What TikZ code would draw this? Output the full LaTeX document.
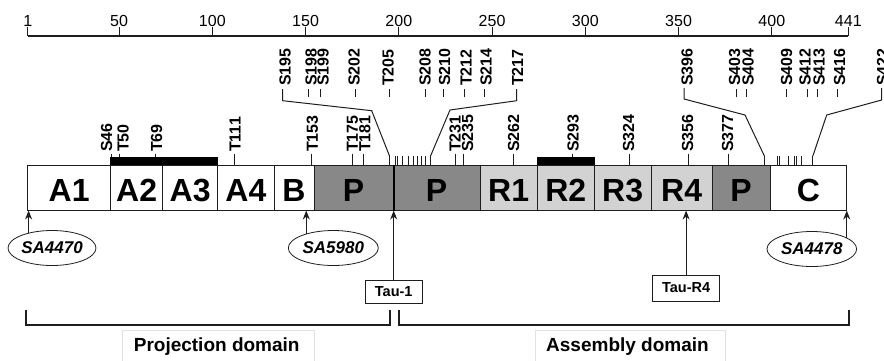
\documentclass[tikz,border=0pt]{standalone}
\usepackage{fontspec}
\setmainfont{Liberation Sans}
\usetikzlibrary{arrows.meta,shapes.geometric,calc}
\definecolor{pgray}{RGB}{136,136,136}
\definecolor{rgray}{RGB}{210,210,210}
\definecolor{lineblk}{RGB}{30,30,30}
\definecolor{faint}{RGB}{225,225,225}
\begin{document}
\begin{tikzpicture}[x=1pt,y=-1pt,
  declare function={rx(\r)=27.7+(\r-1)*1.865;},
  seg/.style={draw=lineblk,line width=1pt,minimum height=45pt,inner sep=0pt},
  segtxt/.style={font=\fontsize{32}{32}\selectfont\bfseries,inner sep=0pt,yshift=-3pt},
  lab/.style={rotate=90,anchor=west,inner sep=0pt,font=\fontsize{16}{16}\selectfont\bfseries},
  tk/.style={line width=0.9pt,lineblk},
  brk/.style={line width=1pt,lineblk},
  axisline/.style={line width=1.1pt,lineblk},
  axlab/.style={anchor=base,inner sep=0pt,font=\fontsize{16}{16}\selectfont},
  arr/.style={line width=1.2pt,lineblk,-{Stealth[length=9pt,width=7pt]}},
  sa/.style={ellipse,draw=lineblk,line width=0.8pt,minimum width=88pt,minimum height=35pt,inner sep=0pt,font=\fontsize{17}{17}\selectfont\bfseries\itshape},
  taubox/.style={draw=lineblk,line width=0.8pt,inner sep=0pt,font=\fontsize{14.5}{14.5}\selectfont\bfseries},
  domline/.style={line width=2pt,lineblk},
  dombox/.style={draw=faint,line width=0.6pt,inner sep=0pt},
  domtxt/.style={anchor=base,inner sep=0pt,font=\fontsize{19}{19}\selectfont\bfseries}
]
\useasboundingbox (0,0) rectangle (884,360);

% ---- scale axis
\coordinate (ax1) at ({rx(1)},36);
\coordinate (ax2) at ({rx(441)},36);
\draw[axisline] (ax1) -- (ax2);
\foreach \r in {1,50,100,150,200,250,300,350,400,441}{
  \draw[axisline] ({rx(\r)},36) -- ({rx(\r)},27);
  \node[axlab] (ax\r) at ({rx(\r)},26.7) {\r};
}

% ---- upper (expanded) labels, left cluster
\foreach \t/\tx/\kx in {S198/311/308, S199/323/320, S202/354/355, T205/388/389.5, S208/425/425, S210/444.5/443.5, T212/466/464, S214/486/484.5}{
  \node[lab] (u\t) at (\tx,86) {\t};
  \draw[tk] (\kx,89) -- (\kx,97);
}
\node[lab] (uS195) at (285,86) {S195};
\node[lab] (uT217) at (517.5,86) {T217};
\draw[brk] (282.7,89) -- (282.7,100.7) -- (371.7,110.7) -- ({rx(195)},156);
\draw[brk] (516.7,89) -- (516.7,100.7) -- (450,110) -- ({rx(217)},156);
\foreach \r in {195,198,199,202,205,208,210,212,214,217}{
  \draw[tk] ({rx(\r)},156) -- ({rx(\r)},165);
}

% ---- upper (expanded) labels, right cluster
\foreach \t/\tx/\kx in {S403/734.5/736, S404/748/746.5, S409/786.5/786, S412/805/807.5, S413/819/817.5, S416/839.5/837}{
  \node[lab] (u\t) at (\tx,86) {\t};
  \draw[tk] (\kx,89) -- (\kx,97);
}
\node[lab] (uS396) at (687,86) {S396};
\node[lab] (uS422) at (882.5,86) {S422};
\draw[brk] (684,88) -- (684,99) -- (745,115) -- ({rx(396)},156);
\draw[brk] (881.7,88) -- (881.7,100) -- (826.7,115) -- ({rx(422)},156);
\foreach \r in {396,403,404,409,412,413,416,422}{
  \draw[tk] ({rx(\r)},156) -- ({rx(\r)},165);
}

% ---- lower labels
\foreach \t/\tx/\kx in {S46/106.7/111.6, T50/123/119.3, T69/156.5/155.5, T111/235/234, T153/312.5/311.2, T175/352.5/352.5, T181/364.8/363.5, T231/455/455.7, S235/467.5/463, S262/513.5/513, S293/573/572.5, S324/628.5/629, S356/687.5/688, S377/727.5/728}{
  \node[lab] (l\t) at (\tx,152) {\t};
  \draw[tk] (\kx,153.5) -- (\kx,165);
}

% ---- domain boxes
\foreach \n/\a/\b/\f in {A1/27.7/110.7/white, A2/110.7/162.7/white, A3/162.7/217.7/white, A4/217.7/274/white, B/274/314/white, P1/314/393.3/pgray, P2/393.3/480/pgray, R1/480/537.3/rgray, R2/537.3/594.3/rgray, R3/594.3/651/rgray, R4/651/712.3/rgray, P3/712.3/770/pgray, C/770/846.7/white}{
  \pgfmathsetmacro\w{\b-\a}
  \pgfmathsetmacro\c{(\a+\b)/2}
  \node[seg,fill=\f,minimum width=\w pt] (\n) at (\c,187.5) {};
}
\foreach \n/\t in {A1/A1, A2/A2, A3/A3, A4/A4, B/B, P1/P, P2/P, R1/R1, R2/R2, R3/R3, R4/R4, P3/P, C/C}{
  \node[segtxt] (t\n) at (\n) {\t};
}
\draw[line width=2pt,black] (P1.north east) -- (P1.south east);
% black bars
\fill[black] (A2.north west) rectangle ($(A3.north east)+(0,-8)$);
\fill[black] (R2.north west) rectangle ($(R2.north east)+(0,-8)$);

% ---- antibodies
\node[sa] (SA1) at (52,248) {SA4470};
\node[sa,minimum width=90pt] (SA2) at (333.3,248) {SA5980};
\node[sa,minimum width=89.7pt] (SA3) at (811.8,249) {SA4478};
\draw[arr] (SA1.147) -- (SA1.147 |- A1.south);
\draw[arr] (SA2.152) -- (SA2.152 |- B.south);
\draw[arr] (SA3.18) -- (SA3.18 |- C.south);

\node[taubox,minimum width=56.6pt,minimum height=23.3pt] (T1) at (393.7,291.7) {Tau-1};
\node[taubox,minimum width=66.8pt,minimum height=26pt] (TR4) at (686.1,288) {Tau-R4};
\draw[arr] (T1.north) -- (T1.north |- P1.south);
\draw[arr] (TR4.north) -- (TR4.north |- R4.south);

% ---- domain brackets
\coordinate (pj1) at (25.5,310);
\coordinate (pj2) at (389.8,310);
\coordinate (as1) at (399.4,310);
\coordinate (as2) at (849,310);
\draw[domline] (pj1) -- ++(0,15) -| (pj2);
\draw[domline] (as1) -- ++(0,15) -| (as2);

\node[dombox,minimum width=192pt,minimum height=36pt] (projbox) at (218,348) {};
\node[domtxt] (proj) at (216.7,351.5) {Projection domain};
\node[dombox,minimum width=190pt,minimum height=36pt] (assbox) at (630.3,348) {};
\node[domtxt] (ass) at (627.5,351.5) {Assembly domain};
\end{tikzpicture}
\end{document}
